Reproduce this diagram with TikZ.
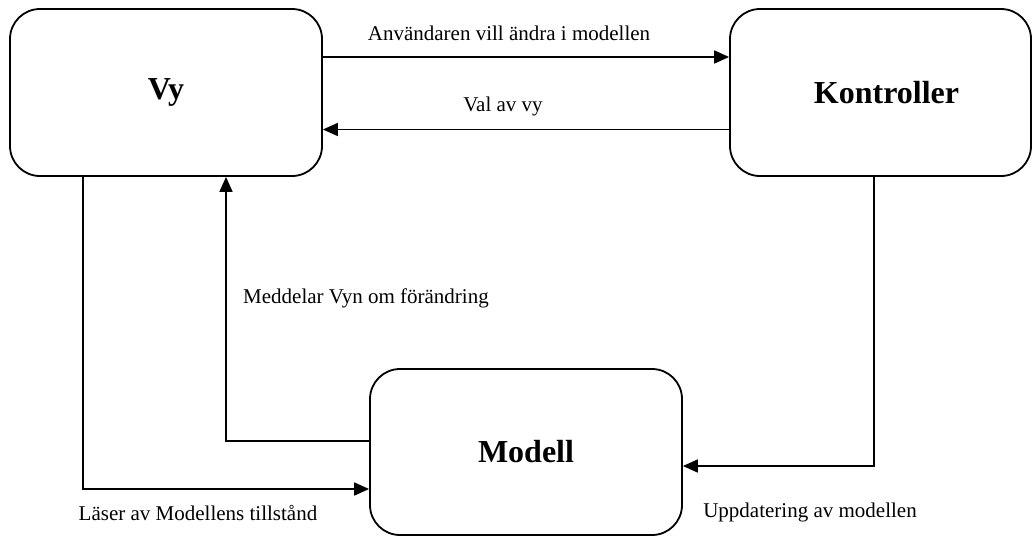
\documentclass[tikz,border=0pt]{standalone}
\usepackage{fontspec}
\setmainfont{Liberation Serif}
\usetikzlibrary{arrows.meta}
\begin{document}
\begin{tikzpicture}[x=1pt,y=-1pt,
  box/.style={draw,line width=1.8pt,rounded corners=30pt,inner sep=0pt,font=\fontsize{32}{38}\selectfont\bfseries},
  arr/.style={line width=1.7pt,-{Triangle[length=15pt,width=13pt]}},
  lbl/.style={font=\fontsize{21}{25}\selectfont,inner sep=0pt}]
\useasboundingbox (0,0) rectangle (1033,536);
\node[box,minimum width=312pt,minimum height=167pt] (vy) at (166,92.5) {Vy};
\node[box,minimum width=301pt,minimum height=167pt] (kon) at (880.5,92.5) {\hspace{12pt}Kontroller};
\node[box,minimum width=312pt,minimum height=166pt] (mod) at (526,452) {Modell};
\draw[arr] ([yshift=35.5pt]vy.east) -- ([yshift=35.5pt]kon.west);
\draw[arr] ([yshift=-37pt]kon.west) -- ([yshift=-37pt]vy.east);
\draw[arr] ([xshift=-83pt]vy.south) |- ([yshift=-37pt]mod.west);
\draw[arr] ([yshift=11pt]mod.west) -| ([xshift=60pt]vy.south);
\draw[arr] ([xshift=-6.5pt]kon.south) |- ([yshift=-14pt]mod.east);
\node[lbl] (l1) at (509,33) {Användaren vill ändra i modellen};
\node[lbl] (l2) at (503,106) {Val av vy};
\node[lbl] (l3) at (366,298) {Meddelar Vyn om förändring};
\node[lbl] (l4) at (198,513) {Läser av Modellens tillstånd};
\node[lbl] (l5) at (810,512) {Uppdatering av modellen};
\end{tikzpicture}
\end{document}
